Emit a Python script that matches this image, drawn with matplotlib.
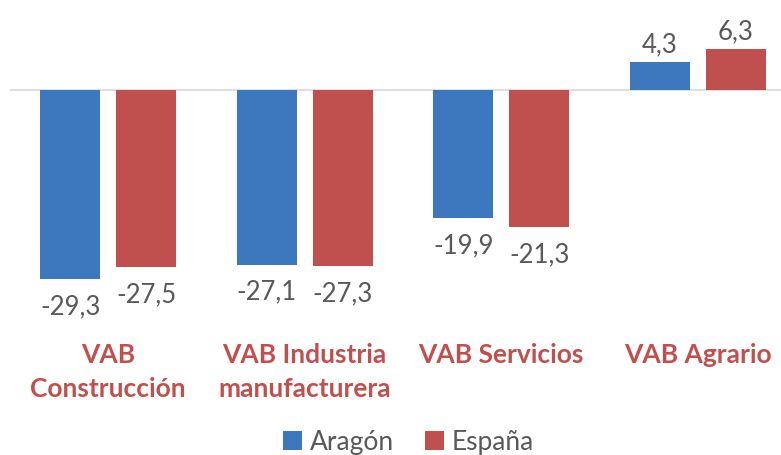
import matplotlib
matplotlib.use("Agg")
import matplotlib.pyplot as plt
import numpy as np

categories = ["VAB\nConstrucción", "VAB Industria\nmanufacturera", "VAB Servicios", "VAB Agrario"]
aragon = [-29.3, -27.1, -19.9, 4.3]
espana = [-27.5, -27.3, -21.3, 6.3]
series_names = ["Aragón", "España"]

blue = "#3D78BF"
red = "#C0504D"
grey = "#595959"
font = ["Lato", "DejaVu Sans"]

W, H = 781, 456
fig = plt.figure(figsize=(W / 100, H / 100), dpi=100)
ax = fig.add_axes([10 / W, 1 - 330 / H, 1 - 10 / W, 330 / H])

x = np.arange(len(categories))
bw = 0.305
off = 0.193
b1 = ax.bar(x - off, aragon, bw, color=blue, label=series_names[0])
b2 = ax.bar(x + off, espana, bw, color=red, label=series_names[1])

ax.set_xlim(-0.5, 3.424)
ax.set_ylim(-37.05, 14.1)
ax.axhline(0, color="#D9D9D9", lw=1.2, zorder=0)

for bars, vals in ((b1, aragon), (b2, espana)):
    for rect, v in zip(bars, vals):
        cx = rect.get_x() + rect.get_width() / 2
        lab = f"{v:.1f}".replace(".", ",")
        if v < 0:
            ax.annotate(lab, (cx, v), xytext=(0, -10), textcoords="offset points",
                        ha="center", va="top", fontsize=18.5, color=grey, family=font)
        else:
            ax.annotate(lab, (cx, v), xytext=(0, 4), textcoords="offset points",
                        ha="center", va="bottom", fontsize=18.5, color=grey, family=font)

for xi, c in zip(x, categories):
    ax.text(xi, -39.0, c, ha="center", va="top", fontsize=19, fontweight="bold",
            color=red, family=font, linespacing=1.5, clip_on=False)

ax.set_xticks([])
ax.set_yticks([])
for s in ax.spines.values():
    s.set_visible(False)

leg = fig.legend(handles=[b1, b2], labels=series_names, loc="center",
                 bbox_to_anchor=(0.523, 1 - 443 / H), ncol=2, frameon=False,
                 prop={"family": font, "size": 19}, handlelength=0.7, handleheight=0.7,
                 handletextpad=0.3, columnspacing=1.2)
for t in leg.get_texts():
    t.set_color(grey)

fig.savefig("out.png", dpi=100)
